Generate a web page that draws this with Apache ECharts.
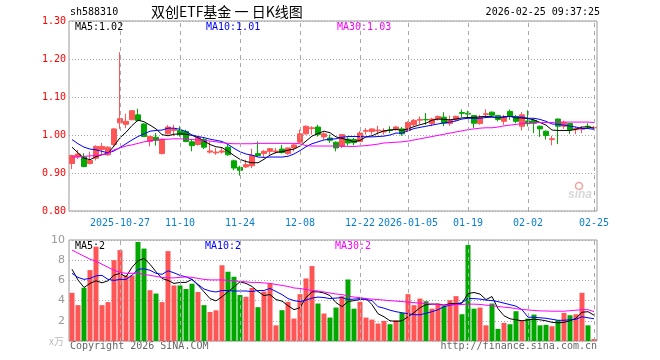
<!DOCTYPE html>
<html><head><meta charset="utf-8">
<script src="https://cdn.jsdelivr.net/npm/echarts@6/dist/echarts.min.js"></script>
<style>html,body{margin:0;padding:0;background:#fff}#c{width:660px;height:360px}</style>
</head><body><div id="c"></div>
<script>
const dates = [
'2025-10-15','2025-10-16','2025-10-17','2025-10-20','2025-10-21','2025-10-22','2025-10-23','2025-10-24',
'2025-10-27','2025-10-28','2025-10-29','2025-10-30','2025-10-31','2025-11-03','2025-11-04','2025-11-05','2025-11-06','2025-11-07',
'2025-11-10','2025-11-11','2025-11-12','2025-11-13','2025-11-14','2025-11-17','2025-11-18','2025-11-19','2025-11-20','2025-11-21',
'2025-11-24','2025-11-25','2025-11-26','2025-11-27','2025-11-28','2025-12-01','2025-12-02','2025-12-03','2025-12-04','2025-12-05',
'2025-12-08','2025-12-09','2025-12-10','2025-12-11','2025-12-12','2025-12-15','2025-12-16','2025-12-17','2025-12-18','2025-12-19',
'2025-12-22','2025-12-23','2025-12-24','2025-12-25','2025-12-26','2025-12-29','2025-12-30','2025-12-31',
'2026-01-05','2026-01-06','2026-01-07','2026-01-08','2026-01-09','2026-01-12','2026-01-13','2026-01-14','2026-01-15','2026-01-16',
'2026-01-19','2026-01-20','2026-01-21','2026-01-22','2026-01-23','2026-01-26','2026-01-27','2026-01-28','2026-01-29','2026-01-30',
'2026-02-02','2026-02-03','2026-02-04','2026-02-05','2026-02-06','2026-02-09','2026-02-10','2026-02-11','2026-02-12','2026-02-13',
'2026-02-24','2026-02-25'];

const opens = [0.925,0.942,0.942,0.925,0.939,0.962,0.948,0.975,1.032,1.028,
1.040,1.053,1.029,0.983,0.994,0.951,1.003,1.012,1.012,1.009,
0.982,0.975,0.988,0.955,0.953,0.955,0.968,0.932,0.915,0.916,
0.919,0.951,0.951,0.957,0.956,0.963,0.951,0.966,0.981,1.003,
1.017,1.021,0.995,0.992,0.981,0.970,0.989,0.988,0.983,1.010,
1.009,1.011,1.008,1.013,1.014,1.016,1.012,1.027,1.039,1.041,
1.030,1.042,1.047,1.030,1.040,1.059,1.057,1.051,1.030,1.054,
1.060,1.051,1.036,1.062,1.049,1.023,1.037,1.038,1.023,1.010,
0.988,1.042,1.023,1.030,1.014,1.015,1.023,1.019];
const closes = [0.946,0.950,0.917,0.933,0.970,0.970,0.968,1.016,1.043,1.036,
1.064,1.038,0.996,0.996,0.986,0.989,1.021,1.016,1.001,0.983,
0.972,0.994,0.968,0.958,0.955,0.958,0.948,0.913,0.907,0.922,
0.946,0.946,0.957,0.964,0.958,0.954,0.966,0.974,1.003,1.023,
1.019,1.001,1.003,0.986,0.966,1.001,0.979,0.980,1.005,1.012,
1.016,1.013,1.011,1.012,1.021,1.003,1.033,1.0385,1.041,1.040,
1.042,1.049,1.031,1.038,1.049,1.057,1.055,1.031,1.046,1.056,
1.052,1.041,1.047,1.049,1.036,1.053,1.030,1.031,1.016,0.999,
0.990,1.023,1.033,1.014,1.017,1.017,1.022,1.020];
const lows = [0.910,0.937,0.915,0.922,0.933,0.948,0.945,0.970,1.016,1.018,
1.039,1.036,0.995,0.970,0.972,0.949,1.001,0.997,0.996,0.981,
0.957,0.972,0.963,0.951,0.948,0.951,0.945,0.907,0.893,0.913,
0.913,0.943,0.942,0.948,0.951,0.951,0.948,0.957,0.979,1.001,
1.001,0.996,0.988,0.979,0.957,0.966,0.972,0.973,0.981,1.001,
1.001,1.001,1.001,1.005,1.012,0.998,1.009,1.023,1.029,1.027,
1.023,1.038,1.023,1.024,1.036,1.047,1.045,1.018,1.027,1.045,
1.048,1.036,1.027,1.040,1.031,1.012,1.023,1.005,0.995,0.988,
0.973,0.976,1.016,1.003,1.002,1.005,1.018,1.017];
const highs = [0.948,0.961,0.952,0.956,0.973,0.979,0.970,1.018,1.218,1.056,
1.065,1.069,1.031,0.998,1.005,0.991,1.026,1.027,1.023,1.014,
0.987,0.997,0.992,0.983,0.966,0.966,0.974,0.935,0.919,0.935,
0.964,0.983,0.960,0.966,0.966,0.974,0.967,0.976,1.014,1.025,
1.023,1.027,1.007,1.001,0.983,1.002,0.994,0.992,1.010,1.018,
1.017,1.024,1.018,1.023,1.024,1.021,1.036,1.042,1.049,1.058,
1.045,1.051,1.060,1.051,1.051,1.067,1.064,1.052,1.053,1.068,
1.062,1.053,1.053,1.067,1.053,1.060,1.065,1.040,1.025,1.012,
0.998,1.043,1.038,1.031,1.021,1.023,1.031,1.024];

const ma5 = [0.968,0.953,0.939,0.935,0.943,0.948,0.952,0.971,0.993,1.007,
1.025,1.039,1.035,1.026,1.016,1.001,0.998,1.002,1.003,1.002,
0.999,0.993,0.984,0.975,0.969,0.967,0.957,0.946,0.936,0.930,
0.927,0.927,0.936,0.947,0.954,0.956,0.960,0.963,0.971,0.984,
0.997,1.004,1.010,1.006,0.995,0.991,0.987,0.982,0.986,0.995,
0.998,1.005,1.011,1.013,1.015,1.012,1.016,1.022,1.027,1.031,
1.039,1.042,1.041,1.040,1.042,1.045,1.046,1.046,1.048,1.049,
1.048,1.045,1.048,1.049,1.045,1.045,1.043,1.040,1.033,1.026,
1.013,1.012,1.012,1.012,1.015,1.021,1.021,1.018];
const ma10 = [0.988,0.977,0.968,0.963,0.961,0.957,0.953,0.958,0.967,0.977,
0.987,0.996,1.003,1.010,1.012,1.013,1.018,1.018,1.015,1.009,
1.000,0.996,0.993,0.989,0.986,0.983,0.975,0.965,0.956,0.950,
0.947,0.942,0.941,0.942,0.942,0.942,0.944,0.950,0.959,0.969,
0.977,0.982,0.987,0.989,0.990,0.994,0.996,0.996,0.996,0.995,
0.995,0.996,0.997,1.000,1.005,1.005,1.011,1.017,1.020,1.023,
1.026,1.029,1.032,1.034,1.037,1.042,1.044,1.044,1.044,1.046,
1.047,1.046,1.047,1.049,1.047,1.047,1.044,1.044,1.041,1.036,
1.029,1.028,1.026,1.023,1.021,1.017,1.017,1.015];
const ma30 = [0.942,0.943,0.944,0.945,0.946,0.948,0.952,0.961,0.966,0.971,
0.974,0.978,0.982,0.985,0.987,0.988,0.989,0.990,0.990,0.989,
0.988,0.987,0.986,0.984,0.982,0.980,0.978,0.977,0.977,0.977,
0.977,0.978,0.978,0.978,0.978,0.978,0.978,0.978,0.977,0.972,
0.971,0.971,0.971,0.971,0.971,0.971,0.970,0.970,0.971,0.972,
0.974,0.976,0.979,0.980,0.981,0.982,0.984,0.987,0.990,0.993,
0.996,0.999,1.002,1.005,1.008,1.011,1.014,1.016,1.018,1.019,
1.019,1.021,1.024,1.026,1.028,1.030,1.031,1.032,1.033,1.033,
1.033,1.034,1.034,1.034,1.034,1.034,1.034,1.033];

const volumes = [4.77,3.55,5.27,7.02,9.34,3.55,3.85,8.01,9.0,6.49,
6.49,9.8,9.15,5.03,4.7,3.85,8.9,5.5,5.5,5.15,
5.67,4.85,3.55,2.87,3.04,7.5,6.86,6.36,4.55,4.38,
5.25,3.35,4.9,5.7,1.55,3.05,3.88,2.22,4.64,6.19,
7.42,3.71,2.72,2.32,3.31,4.44,6.09,3.2,3.88,2.32,
2.12,1.73,1.99,1.66,2.05,2.78,4.64,3.55,4.2,3.94,
3.2,3.7,3.45,4.04,4.44,2.65,9.5,3.2,3.31,1.55,
3.71,1.2,1.79,1.66,2.95,2.05,2.22,2.62,1.55,1.6,
1.46,2.05,2.78,2.55,2.65,4.77,1.55,0.2];
const volMa5 = [7.1,6.04,5.3,5.7,5.96,5.76,5.96,6.52,6.69,6.35,
7.3,7.95,8.18,7.6,6.86,6.19,6.0,5.7,5.8,5.8,
6.1,5.53,4.87,4.2,3.97,4.38,4.87,5.36,5.86,5.7,
5.4,4.9,4.5,4.6,4.1,3.95,3.5,3.1,3.3,4.3,
4.87,4.87,4.75,4.5,3.8,3.4,3.9,4.0,4.1,4.2,
3.6,2.7,2.4,2.0,1.95,2.0,2.4,2.8,3.3,3.6,
3.65,3.65,3.55,3.7,3.7,3.75,4.7,4.8,4.65,4.1,
4.4,3.2,2.5,2.2,2.1,2.0,2.1,2.15,2.1,2.0,
1.85,1.8,1.85,2.0,2.25,2.85,2.9,2.55];
const volMa10 = [6.7,6.3,6.1,6.2,6.45,6.5,6.1,6.0,6.1,6.1,
6.5,7.1,7.15,7.0,6.7,6.6,6.95,6.75,6.5,6.35,
6.1,5.6,5.15,4.95,4.85,5.0,5.0,4.95,4.95,4.95,
4.9,5.0,5.0,5.2,4.9,4.6,4.2,4.0,3.9,4.05,
4.25,4.35,4.3,4.2,4.25,4.3,4.1,4.15,4.2,4.1,
4.0,3.4,3.25,3.05,2.9,2.8,2.7,2.6,2.6,2.75,
2.9,3.1,3.4,3.55,3.65,3.8,4.2,4.2,4.15,4.05,
4.0,3.9,3.75,3.6,3.45,3.1,2.36,2.35,2.3,2.25,
2.15,2.05,2.05,2.1,2.15,2.4,2.3,2.2];
const volMa30 = [9.0,8.7,8.4,8.1,7.9,7.6,7.3,7.0,6.8,6.7,
6.7,6.7,6.6,6.5,6.4,6.3,6.25,6.25,6.3,6.35,
6.3,6.2,6.1,6.05,6.05,6.05,6.0,5.95,5.9,5.85,
5.8,5.8,5.75,5.7,5.6,5.5,5.4,5.25,5.2,5.1,
5.0,4.95,4.85,4.75,4.65,4.6,4.45,4.35,4.3,4.2,
4.15,4.1,4.05,4.0,3.95,3.9,3.85,3.8,3.75,3.7,
3.65,3.6,3.55,3.57,3.6,3.62,3.65,3.65,3.62,3.55,
3.5,3.42,3.35,3.3,3.2,3.12,3.08,3.02,2.98,2.97,
2.95,2.95,2.95,3.0,3.05,3.1,3.1,2.9];

const tickDates = ['2025-10-27','2025-11-10','2025-11-24','2025-12-08','2025-12-22','2026-01-05','2026-01-19','2026-02-02','2026-02-25'];
const tickLabels = ['2025-10-27','11-10','11-24','12-08','12-22','2026-01-05','01-19','02-02','02-25'];

const mono = 'DejaVu Sans Mono';
const upColor = '#ff5555', downColor = '#00a800';
const ohlc = dates.map((d, i) => [opens[i], closes[i], lows[i], highs[i]]);
const volData = volumes.map((v, i) => ({ value: v, itemStyle: { color: closes[i] >= opens[i] ? upColor : downColor } }));
const tickSet = new Set(tickDates);
const labelMap = {};
tickDates.forEach((d, i) => { labelMap[d] = tickLabels[i]; });
const vLines = tickDates.map(d => ({ xAxis: d }));
const vLineStyle = { silent: true, symbol: ['none', 'none'], label: { show: false }, emphasis: { disabled: true },
  lineStyle: { color: '#aaa', type: [4, 4], width: 1 }, data: vLines, animation: false };

function txt(x, y, text, fill, size, align, family, extra) {
  return { type: 'text', x: x, y: y, silent: true,
    style: Object.assign({ text: text, fill: fill, font: size + 'px "' + (family || mono) + '"', align: align || 'left', verticalAlign: 'middle' }, extra || {}) };
}

const chart = echarts.init(document.getElementById('c'));
chart.setOption({
  animation: false,
  backgroundColor: '#fff',
  grid: [
    { left: 69, top: 21, width: 528, height: 190, show: true, borderColor: '#999', borderWidth: 1, backgroundColor: 'transparent' },
    { left: 69, top: 240, width: 528, height: 101, show: true, borderColor: '#999', borderWidth: 1, backgroundColor: 'transparent' }
  ],
  xAxis: [
    { type: 'category', gridIndex: 0, data: dates, boundaryGap: true,
      axisLine: { show: false }, axisTick: { show: false }, splitLine: { show: false },
      axisLabel: { interval: (i, v) => tickSet.has(v), formatter: v => labelMap[v] || '', color: '#0a7fd0',
        fontFamily: mono, fontSize: 10, margin: 7 } },
    { type: 'category', gridIndex: 1, data: dates, boundaryGap: true,
      axisLine: { show: false }, axisTick: { show: false }, splitLine: { show: false }, axisLabel: { show: false } }
  ],
  yAxis: [
    { type: 'value', gridIndex: 0, min: 0.8, max: 1.3, interval: 0.1,
      axisLine: { show: false }, axisTick: { show: false },
      axisLabel: { formatter: v => v.toFixed(2), color: '#ff0000', fontFamily: mono, fontSize: 10, margin: 3 },
      splitLine: { lineStyle: { color: '#aaa', type: [1, 2], width: 1 } } },
    { type: 'value', gridIndex: 1, min: 0, max: 10, interval: 2,
      axisLine: { show: false }, axisTick: { show: false },
      axisLabel: { formatter: v => v === 0 ? '' : String(v), color: '#999', fontFamily: 'DejaVu Sans', fontSize: 11, margin: 4 },
      splitLine: { lineStyle: { color: '#aaa', type: [1, 2], width: 1 } } }
  ],
  series: [
    { type: 'candlestick', xAxisIndex: 0, yAxisIndex: 0, data: ohlc, barWidth: 5, barMaxWidth: 5, barMinWidth: 5,
      itemStyle: { color: upColor, color0: downColor, borderColor: upColor, borderColor0: downColor, borderWidth: 1 },
      markLine: vLineStyle },
    { type: 'line', xAxisIndex: 0, yAxisIndex: 0, data: ma5, symbol: 'none', lineStyle: { color: '#000', width: 1 }, z: 3 },
    { type: 'line', xAxisIndex: 0, yAxisIndex: 0, data: ma10, symbol: 'none', lineStyle: { color: '#0000ff', width: 1 }, z: 3 },
    { type: 'line', xAxisIndex: 0, yAxisIndex: 0, data: ma30, symbol: 'none', lineStyle: { color: '#ff00ff', width: 1 }, z: 3 },
    { type: 'bar', xAxisIndex: 1, yAxisIndex: 1, data: volData, barWidth: 5, markLine: vLineStyle },
    { type: 'line', xAxisIndex: 1, yAxisIndex: 1, data: volMa5, symbol: 'none', lineStyle: { color: '#000', width: 1 }, z: 3 },
    { type: 'line', xAxisIndex: 1, yAxisIndex: 1, data: volMa10, symbol: 'none', lineStyle: { color: '#0000ff', width: 1 }, z: 3 },
    { type: 'line', xAxisIndex: 1, yAxisIndex: 1, data: volMa30, symbol: 'none', lineStyle: { color: '#ff00ff', width: 1 }, z: 3 }
  ],
  graphic: [
    txt(70, 12, 'sh588310', '#000', 10),
    txt(151, 12, '双创ETF基金 一 日K线图', '#000', 14, 'left', 'Noto Sans CJK SC'),
    txt(600, 12, '2026-02-25 09:37:25', '#000', 10, 'right'),
    txt(75, 27, 'MA5:1.02', '#000', 10),
    txt(206, 27, 'MA10:1.01', '#0000ff', 10),
    txt(337, 27, 'MA30:1.03', '#ff00ff', 10),
    txt(75, 246, 'MA5:2', '#000', 10),
    txt(205, 246, 'MA10:2', '#0000ff', 10),
    txt(335, 246, 'MA30:2', '#ff00ff', 10),
    txt(70, 346, 'Copyright 2026 SINA.COM', '#666', 10),
    txt(597, 346, 'http://finance.sina.com.cn', '#666', 10, 'right'),
    txt(64, 341, 'x万', '#bbb', 10, 'right', 'Noto Sans CJK SC', { fontStyle: 'italic' }),
    { type: 'circle', shape: { cx: 579, cy: 186, r: 3.5 }, silent: true, style: { fill: 'none', stroke: '#f4a0a0', lineWidth: 1.5 } },
    txt(580, 195, 'sina', '#d8d8d8', 15, 'center', 'DejaVu Sans', { fontWeight: 'bold', fontStyle: 'italic', font: 'italic bold 15px "DejaVu Sans"' })
  ]
});
</script></body></html>
